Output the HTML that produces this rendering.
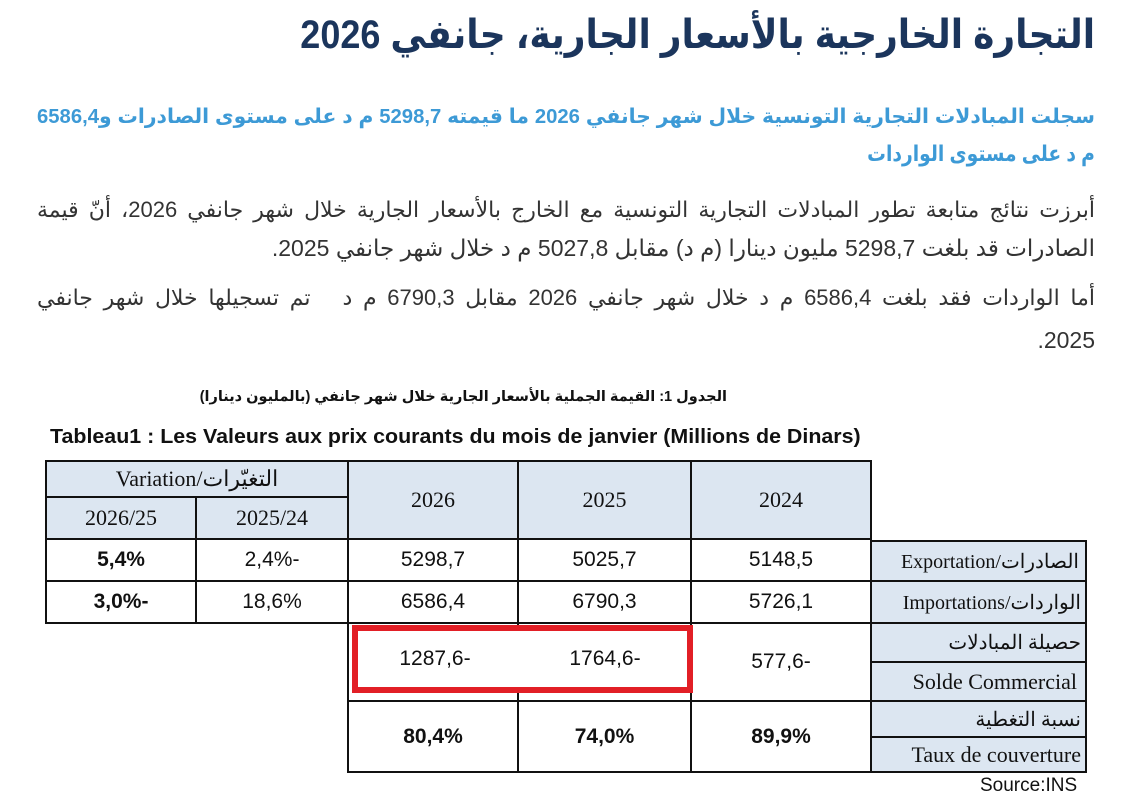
<!DOCTYPE html>
<html><head><meta charset="utf-8"><style>
body{margin:0;width:1127px;height:802px;background:#fff;position:relative;overflow:hidden;font-family:"Liberation Sans","DejaVu Sans",sans-serif}
.l{position:absolute;direction:rtl;white-space:nowrap;transform-origin:right center}
.full{left:37px;width:1058px;text-align:justify;text-align-last:justify}
.c{position:absolute;box-sizing:border-box;border:2px solid #111;display:flex;align-items:center;justify-content:center;font-size:21px;color:#111}
.h{background:#dce6f1;font-family:"Liberation Serif","DejaVu Serif",serif;font-size:22px}
.b{font-weight:bold}
.n{position:relative;display:inline-block;margin-right:7px}
.m{position:absolute;left:100%;top:0}
</style></head><body>
<div class="l" style="right:32px;top:12px;font-size:40px;font-weight:bold;color:#1b355c;transform:scaleX(0.9)">التجارة الخارجية بالأسعار الجارية، جانفي 2026</div>
<div class="l full" style="top:104px;font-size:20.3px;font-weight:bold;color:#3d9ad6">سجلت المبادلات التجارية التونسية خلال شهر جانفي 2026 ما قيمته 5298,7 م د على مستوى الصادرات و6586,4</div>
<div class="l" style="right:32px;top:141px;font-size:22px;font-weight:bold;color:#3d9ad6;transform:scaleX(0.85)">م د على مستوى الواردات</div>
<div class="l full" style="top:197px;font-size:22px;color:#333">أبرزت نتائج متابعة تطور المبادلات التجارية التونسية مع الخارج بالأسعار الجارية خلال شهر جانفي 2026، أنّ قيمة</div>
<div class="l" style="right:32px;top:235px;font-size:23px;color:#333">الصادرات قد بلغت 5298,7 مليون دينارا (م د) مقابل 5027,8 م د خلال شهر جانفي 2025.</div>
<div class="l full" style="top:285px;font-size:22px;color:#333">أما الواردات فقد بلغت 6586,4 م د خلال شهر جانفي 2026 مقابل 6790,3 م د &nbsp; تم تسجيلها خلال شهر جانفي</div>
<div class="l" style="right:32px;top:327px;font-size:23px;color:#333">2025.</div>

<div class="l" style="right:400px;top:389px;font-size:14.5px;font-weight:bold;color:#111">الجدول 1: القيمة الجملية بالأسعار الجارية خلال شهر جانفي (بالمليون دينارا)</div>
<div style="position:absolute;left:50px;top:426px;font-size:20px;font-weight:bold;color:#111;transform:scaleX(1.07);transform-origin:left">Tableau1 : Les Valeurs aux prix courants du mois de janvier (Millions de Dinars)</div>

<div class="c h" style="left:45px;top:460px;width:304px;height:38px">Variation/التغيّرات</div>
<div class="c h" style="left:45px;top:496px;width:152px;height:44px">2026/25</div>
<div class="c h" style="left:195px;top:496px;width:154px;height:44px">2025/24</div>
<div class="c h" style="left:347px;top:460px;width:172px;height:80px">2026</div>
<div class="c h" style="left:517px;top:460px;width:175px;height:80px">2025</div>
<div class="c h" style="left:690px;top:460px;width:182px;height:80px">2024</div>

<div class="c b" style="left:45px;top:538px;width:152px;height:44px">5,4%</div>
<div class="c" style="left:195px;top:538px;width:154px;height:44px"><span class="n">2,4%<span class="m">-</span></span></div>
<div class="c" style="left:347px;top:538px;width:172px;height:44px">5298,7</div>
<div class="c" style="left:517px;top:538px;width:175px;height:44px">5025,7</div>
<div class="c" style="left:690px;top:538px;width:182px;height:44px">5148,5</div>
<div class="c h" style="left:870px;top:540px;width:217px;height:42px;justify-content:flex-end;padding-right:6px;font-size:20px">Exportation/الصادرات</div>

<div class="c b" style="left:45px;top:580px;width:152px;height:44px"><span class="n">3,0%<span class="m">-</span></span></div>
<div class="c" style="left:195px;top:580px;width:154px;height:44px">18,6%</div>
<div class="c" style="left:347px;top:580px;width:172px;height:44px">6586,4</div>
<div class="c" style="left:517px;top:580px;width:175px;height:44px">6790,3</div>
<div class="c" style="left:690px;top:580px;width:182px;height:44px">5726,1</div>
<div class="c h" style="left:870px;top:580px;width:217px;height:44px;justify-content:flex-end;padding-right:4px;font-size:20px">Importations/الواردات</div>

<div class="c" style="left:347px;top:622px;width:172px;height:80px"></div>
<div class="c" style="left:517px;top:622px;width:175px;height:80px"></div>
<div class="c" style="left:690px;top:622px;width:182px;height:80px"><span class="n">577,6<span class="m">-</span></span></div>
<div class="c h" style="left:870px;top:622px;width:217px;height:41px;justify-content:flex-end;padding-right:4px;font-size:20px">حصيلة المبادلات</div>
<div class="c h" style="left:870px;top:661px;width:217px;height:41px;justify-content:flex-end;padding-right:8px;font-size:22px">Solde Commercial</div>

<div class="c b" style="left:347px;top:700px;width:172px;height:73px">80,4%</div>
<div class="c b" style="left:517px;top:700px;width:175px;height:73px">74,0%</div>
<div class="c b" style="left:690px;top:700px;width:182px;height:73px">89,9%</div>
<div class="c h" style="left:870px;top:700px;width:217px;height:38px;justify-content:flex-end;padding-right:4px;font-size:20px">نسبة التغطية</div>
<div class="c h" style="left:870px;top:736px;width:217px;height:37px;justify-content:flex-end;padding-right:4px;font-size:22px">Taux de couverture</div>

<div style="position:absolute;left:352px;top:625px;width:341px;height:68px;box-sizing:border-box;border:6px solid #e21f26;background:#fff"></div>
<div style="position:absolute;left:350px;top:647px;width:170px;text-align:center;font-size:21px;color:#111"><span class="n">1287,6<span class="m">-</span></span></div>
<div style="position:absolute;left:520px;top:647px;width:170px;text-align:center;font-size:21px;color:#111"><span class="n">1764,6<span class="m">-</span></span></div>
<div style="position:absolute;left:980px;top:775px;font-size:19px;color:#111">Source:INS</div>
</body></html>
